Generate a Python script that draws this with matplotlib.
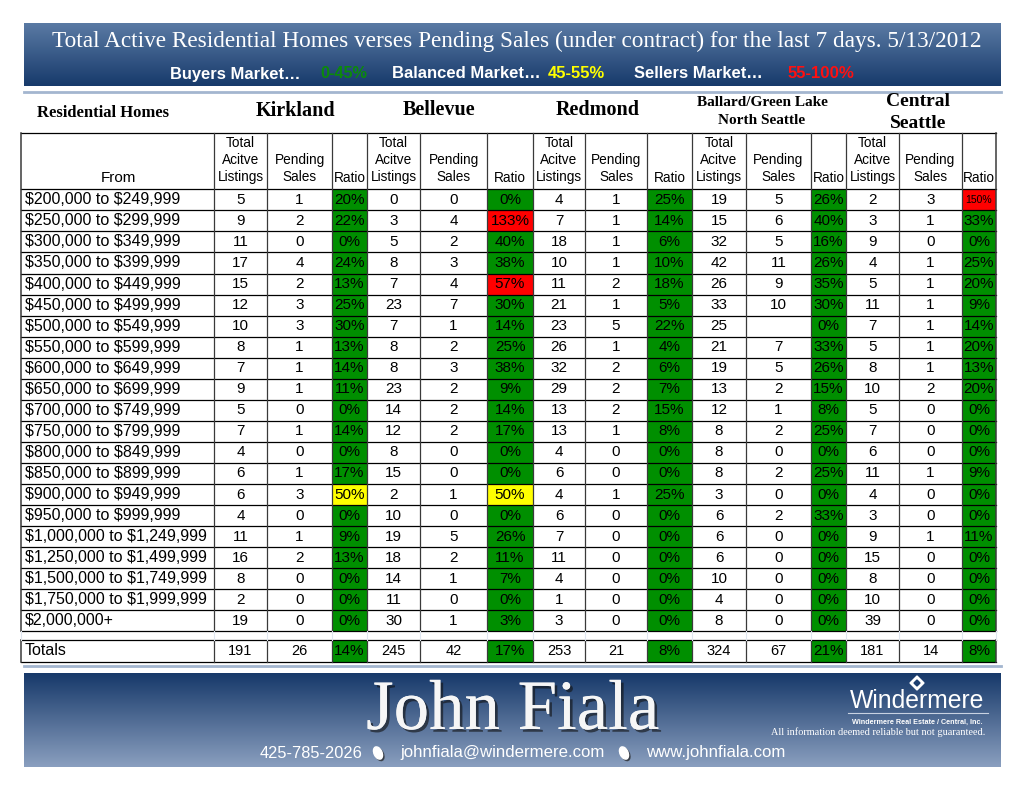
import numpy as np
import matplotlib
matplotlib.use("Agg")
import matplotlib.pyplot as plt
import matplotlib.patheffects as pe
from matplotlib import font_manager
from matplotlib.patches import Rectangle, Ellipse, Polygon

plt.rcParams["text.parse_math"] = False

# ---- data ----
price_ranges = ["$200,000 to $249,999", "$250,000 to $299,999", "$300,000 to $349,999",
                "$350,000 to $399,999", "$400,000 to $449,999", "$450,000 to $499,999",
                "$500,000 to $549,999", "$550,000 to $599,999", "$600,000 to $649,999",
                "$650,000 to $699,999", "$700,000 to $749,999", "$750,000 to $799,999",
                "$800,000 to $849,999", "$850,000 to $899,999", "$900,000 to $949,999",
                "$950,000 to $999,999", "$1,000,000 to $1,249,999", "$1,250,000 to $1,499,999",
                "$1,500,000 to $1,749,999", "$1,750,000 to $1,999,999", "$2,000,000+"]

areas = [["Kirkland"], ["Bellevue"], ["Redmond"], ["Ballard/Green Lake", "North Seattle"],
         ["Central", "Seattle"]]

kirkland_active = [5, 9, 11, 17, 15, 12, 10, 8, 7, 9, 5, 7, 4, 6, 6, 4, 11, 16, 8, 2, 19]
kirkland_pending = [1, 2, 0, 4, 2, 3, 3, 1, 1, 1, 0, 1, 0, 1, 3, 0, 1, 2, 0, 0, 0]
kirkland_ratio = [20, 22, 0, 24, 13, 25, 30, 13, 14, 11, 0, 14, 0, 17, 50, 0, 9, 13, 0, 0, 0]

bellevue_active = [0, 3, 5, 8, 7, 23, 7, 8, 8, 23, 14, 12, 8, 15, 2, 10, 19, 18, 14, 11, 30]
bellevue_pending = [0, 4, 2, 3, 4, 7, 1, 2, 3, 2, 2, 2, 0, 0, 1, 0, 5, 2, 1, 0, 1]
bellevue_ratio = [0, 133, 40, 38, 57, 30, 14, 25, 38, 9, 14, 17, 0, 0, 50, 0, 26, 11, 7, 0, 3]

redmond_active = [4, 7, 18, 10, 11, 21, 23, 26, 32, 29, 13, 13, 4, 6, 4, 6, 7, 11, 4, 1, 3]
redmond_pending = [1, 1, 1, 1, 2, 1, 5, 1, 2, 2, 2, 1, 0, 0, 1, 0, 0, 0, 0, 0, 0]
redmond_ratio = [25, 14, 6, 10, 18, 5, 22, 4, 6, 7, 15, 8, 0, 0, 25, 0, 0, 0, 0, 0, 0]

ballard_active = [19, 15, 32, 42, 26, 33, 25, 21, 19, 13, 12, 8, 8, 8, 3, 6, 6, 6, 10, 4, 8]
ballard_pending = [5, 6, 5, 11, 9, 10, None, 7, 5, 2, 1, 2, 0, 2, 0, 2, 0, 0, 0, 0, 0]
ballard_ratio = [26, 40, 16, 26, 35, 30, 0, 33, 26, 15, 8, 25, 0, 25, 0, 33, 0, 0, 0, 0, 0]

central_active = [2, 3, 9, 4, 5, 11, 7, 5, 8, 10, 5, 7, 6, 11, 4, 3, 9, 15, 8, 10, 39]
central_pending = [3, 1, 0, 1, 1, 1, 1, 1, 1, 2, 0, 0, 0, 1, 0, 0, 1, 0, 0, 0, 0]
central_ratio = [150, 33, 0, 25, 20, 9, 14, 20, 13, 20, 0, 0, 0, 9, 0, 0, 11, 0, 0, 0, 0]

totals_active = [191, 245, 253, 324, 181]
totals_pending = [26, 42, 21, 67, 14]
totals_ratio = [14, 17, 8, 21, 8]

market_labels = ["Buyers Market\u2026", "0-45%", "Balanced Market\u2026", "45-55%",
                 "Sellers Market\u2026", "55-100%"]

# ---- layout ----
names = {f.name for f in font_manager.fontManager.ttflist}
NARROW = "Liberation Sans Narrow" if "Liberation Sans Narrow" in names else "Liberation Sans"
SANS = "Liberation Sans"
SERIF = "Liberation Serif"

fig = plt.figure(figsize=(10.24, 7.91), dpi=100)
ax = fig.add_axes([0, 0, 1, 1])
ax.set_xlim(0, 1024)
ax.set_ylim(791, 0)
ax.axis("off")
renderer = fig.canvas.get_renderer()


def fit(x, y, s, width, **kw):
    t = ax.text(x, y, s, fontsize=10, **kw)
    w = t.get_window_extent(renderer=renderer).width
    t.set_fontsize(10 * width / w)
    return t


def gradient(x0, x1, y0, y1, c_top, c_bot):
    a = np.array(matplotlib.colors.to_rgb(c_top))
    b = np.array(matplotlib.colors.to_rgb(c_bot))
    tt = np.linspace(0, 1, 100)[:, None, None]
    img = a * (1 - tt) + b * tt
    ax.imshow(img, extent=(x0, x1, y1, y0), origin="upper", aspect="auto", zorder=0)


# top banner
gradient(24, 1001, 23, 86, "#5a7aa4", "#173a6b")
fit(517, 41, "Total Active Residential Homes verses Pending Sales (under contract) for the last 7 days. 5/13/2012",
    931, family=SERIF, color="white", ha="center", va="center")
market_x = [170, 320, 392, 548, 634, 788]
market_w = [130, 47, 149, 57, 129, 67]
market_c = ["white", "#0b8a0b", "white", "#ffff00", "white", "#ff1010"]
for lab, x, w, c in zip(market_labels, market_x, market_w, market_c):
    fit(x, 74, lab, w, family=SANS, weight="bold", color=c, ha="left", va="center")
ax.plot([24, 1001], [91.5, 91.5], color="#a3b6cf", lw=2)

# headers above table
ax.text(37, 113, "Residential Homes", family=SERIF, weight="bold", fontsize=12, va="center")
area_cx = [296, 439, 598, 762, 918]
area_y = [[111], [110], [110], [103, 120], [102, 123]]
area_fs = [14.5, 14.5, 14.5, 11, 14]
for lines, cx, ys, fs in zip(areas, area_cx, area_y, area_fs):
    for s, cy in zip(lines, ys):
        ax.text(cx, cy, s, family=SERIF, weight="bold", fontsize=fs, ha="center", va="center")

# table geometry
left = 21
edges = [[214, 267, 332, 367], [367, 420, 487, 533], [533, 585, 647, 692],
         [692, 746, 811, 846], [846, 899, 962, 996]]
right = 996
top, head_bot = 133, 189.3
row_h = 21.05
n = len(price_ranges)
data_bot = head_bot + n * row_h
tot_top, tot_bot = 640, 661.5

actives = [kirkland_active, bellevue_active, redmond_active, ballard_active, central_active]
pendings = [kirkland_pending, bellevue_pending, redmond_pending, ballard_pending, central_pending]
ratios = [kirkland_ratio, bellevue_ratio, redmond_ratio, ballard_ratio, central_ratio]


def ratio_color(r):
    if r > 55:
        return "#ff0000"
    if r >= 45:
        return "#ffff00"
    return "#008f00"


FS = 11.5
for i, label in enumerate(price_ranges):
    yc = head_bot + (i + 0.5) * row_h
    ax.text(25, yc, label, family=SANS, fontsize=FS, va="center", ha="left")
    for k in range(5):
        e = edges[k]
        ax.text((e[0] + e[1]) / 2, yc, str(actives[k][i]), family=SANS, fontsize=FS - 0.5,
                ha="center", va="center")
        p = pendings[k][i]
        if p is not None:
            ax.text((e[1] + e[2]) / 2, yc, str(p), family=SANS, fontsize=FS - 0.5,
                    ha="center", va="center")
        r = ratios[k][i]
        ax.add_patch(Rectangle((e[2], head_bot + i * row_h), e[3] - e[2], row_h,
                               color=ratio_color(r), zorder=1, lw=0))
        small = r >= 100 and (e[3] - e[2]) < 40
        ax.text((e[2] + e[3]) / 2, yc, f"{r}%", family=SANS, fontsize=7.5 if small else FS - 0.5,
                ha="center", va="center", zorder=3)

# totals row
yc = (tot_top + tot_bot) / 2
ax.text(25, yc, "Totals", family=SANS, fontsize=FS, va="center", ha="left")
for k in range(5):
    e = edges[k]
    ax.text((e[0] + e[1]) / 2, yc, str(totals_active[k]), family=SANS, fontsize=FS - 1,
            ha="center", va="center")
    ax.text((e[1] + e[2]) / 2, yc, str(totals_pending[k]), family=SANS, fontsize=FS - 1,
            ha="center", va="center")
    ax.add_patch(Rectangle((e[2], tot_top), e[3] - e[2], tot_bot - tot_top,
                           color=ratio_color(totals_ratio[k]), zorder=1, lw=0))
    ax.text((e[2] + e[3]) / 2, yc, f"{totals_ratio[k]}%", family=SANS, fontsize=FS - 0.5,
            ha="center", va="center", zorder=3)

# header row labels
for k in range(5):
    e = edges[k]
    for j, w in enumerate(["Total", "Acitve", "Listings"]):
        ax.text((e[0] + e[1]) / 2, 143 + 17 * j, w, family=SANS, fontsize=9.8, ha="center", va="center")
    for j, w in enumerate(["Pending", "Sales"]):
        ax.text((e[1] + e[2]) / 2, 160 + 17 * j, w, family=SANS, fontsize=9.8, ha="center", va="center")
    ax.text((e[2] + e[3]) / 2, 178, "Ratio", family=SANS, fontsize=9.8, ha="center", va="center")
ax.text(118, 178, "From", family=SANS, fontsize=11, ha="center", va="center")

# grid lines
xs = [left, 214] + [x for e in edges for x in e[1:]]
for yy in [top, head_bot] + [head_bot + i * row_h for i in range(1, n + 1)] + [tot_top, tot_bot]:
    ax.plot([left, right], [yy, yy], color="black", lw=0.9, zorder=4)
for xx in xs:
    lw = 1.1 if xx in (left, right) else 0.9
    ax.plot([xx, xx], [top, data_bot], color="#3a3a3a", lw=lw, zorder=4)
    ax.plot([xx, xx], [tot_top, tot_bot], color="#3a3a3a", lw=lw, zorder=4)
    ax.plot([xx, xx], [data_bot, tot_top], color="#dfe6ef", lw=0.8, zorder=4)
ax.plot([24, 1001], [666, 666], color="#a3b6cf", lw=2)

# footer banner
gradient(24, 1001, 673, 767, "#17396a", "#8a9fbf")
ax.text(513, 729, "John Fiala", family=SERIF, fontsize=51, color="#f6f6f6",
        ha="center", va="baseline",
        path_effects=[pe.withSimplePatchShadow(offset=(2, -2), shadow_rgbFace="#111111", alpha=0.6),
                      pe.Normal()])
fit(260, 753, "425-785-2026", 103, family=NARROW, color="white", ha="left", va="center")
fit(400, 753, "johnfiala@windermere.com", 204, family=NARROW, color="white", ha="left", va="center")
fit(646, 753, "www.johnfiala.com", 139, family=NARROW, color="white", ha="left", va="center")
for bx in [378, 624]:
    ax.add_patch(Ellipse((bx + 1.5, 754.5), 8, 13, angle=-25, color="#222222", alpha=0.6))
    ax.add_patch(Ellipse((bx, 753), 8, 13, angle=-25, color="white"))

# Windermere logo
ax.add_patch(Polygon([[917, 676], [924, 683], [917, 690], [910, 683]], color="white"))
ax.add_patch(Polygon([[917, 680], [920, 683], [917, 686], [914, 683]], color="#1d3f70"))
fit(917, 701, "Windermere", 136, family=NARROW, color="white", ha="center", va="center")
ax.plot([848, 988], [713, 713], color="#c8d2e2", lw=0.8)
fit(983, 722, "Windermere Real Estate / Central, Inc.", 131, family=SANS, weight="bold",
    color="white", ha="right", va="center")
fit(985, 732, "All information deemed reliable but not guaranteed.", 213, family=SERIF,
    color="white", ha="right", va="center")

fig.savefig("out.png", dpi=100)
